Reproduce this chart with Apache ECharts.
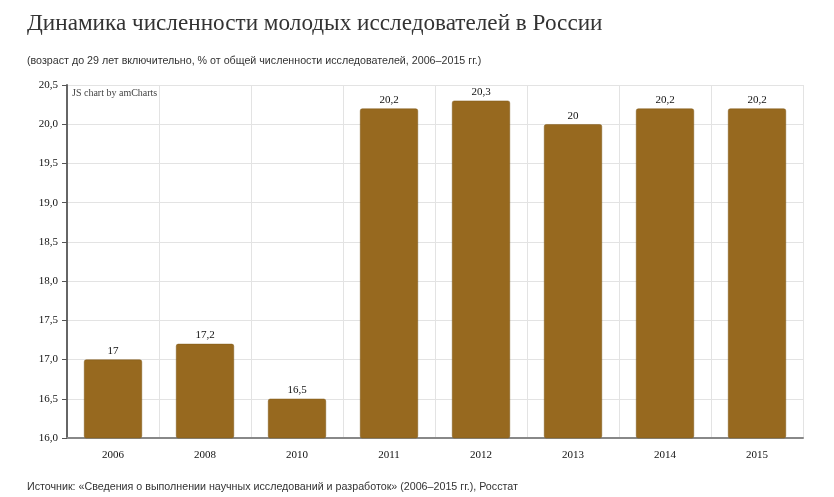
<!DOCTYPE html>
<html><head><meta charset="utf-8">
<script src="https://cdn.jsdelivr.net/npm/echarts@6/dist/echarts.min.js"></script>
<style>html,body{margin:0;padding:0;background:#fff}#c{width:834px;height:497px}</style>
</head><body><div id="c"></div>
<script>
const categories = ['2006','2008','2010','2011','2012','2013','2014','2015'];
const values = [17, 17.2, 16.5, 20.2, 20.3, 20, 20.2, 20.2];
const valueLabels = ['17','17,2','16,5','20,2','20,3','20','20,2','20,2'];
const yMin = 16, yMax = 20.5, yStep = 0.5;

const chart = echarts.init(document.getElementById('c'), null, {renderer:'canvas'});
chart.setOption({
  animation:false,
  backgroundColor:'#fff',
  title:[
    {text:'Динамика численности молодых исследователей в России', left:27, top:12, padding:0,
     textStyle:{fontFamily:'Liberation Serif', fontSize:23.2, fontWeight:'normal', color:'#333'}},
    {text:'(возраст до 29 лет включительно, % от общей численности исследователей, 2006–2015 гг.)', left:27, top:56, padding:0,
     textStyle:{fontFamily:'Liberation Sans', fontSize:10.7, fontWeight:'normal', color:'#333'}},
    {text:'Источник: «Сведения о выполнении научных исследований и разработок» (2006–2015 гг.), Росстат', left:27, top:482, padding:0,
     textStyle:{fontFamily:'Liberation Sans', fontSize:10.7, fontWeight:'normal', color:'#333'}},
    {text:'JS chart by amCharts', left:72, top:88, padding:0,
     textStyle:{fontFamily:'Liberation Serif', fontSize:10, fontWeight:'normal', color:'#444'}}
  ],
  grid:{left:67, right:31, top:85, bottom:59, containLabel:false},
  xAxis:{type:'category', data:categories,
    axisLine:{lineStyle:{color:'#888', width:2}},
    axisTick:{show:true, alignWithLabel:true, inside:true, length:4, lineStyle:{color:'#555'}},
    axisLabel:{fontFamily:'Liberation Serif', fontSize:11, color:'#111', margin:12},
    splitLine:{show:true, lineStyle:{color:'#e3e3e3'}}
  },
  yAxis:{type:'value', min:yMin, max:yMax, interval:yStep,
    axisLine:{show:true, lineStyle:{color:'#666', width:2}},
    axisTick:{show:true, length:5, lineStyle:{color:'#555'}},
    axisLabel:{fontFamily:'Liberation Serif', fontSize:11, color:'#111', margin:9,
      formatter:v=>v.toFixed(1).replace('.',',')},
    splitLine:{show:true, lineStyle:{color:'#e3e3e3'}}
  },
  series:[{type:'bar', data:values, barWidth:58,
    itemStyle:{color:'#97691f', borderColor:'#7e5819', borderWidth:0.5, borderRadius:2},
    label:{show:true, position:'top', distance:3, fontFamily:'Liberation Serif', fontSize:11, color:'#111',
      formatter:p=>valueLabels[p.dataIndex]}
  }]
});
</script></body></html>
